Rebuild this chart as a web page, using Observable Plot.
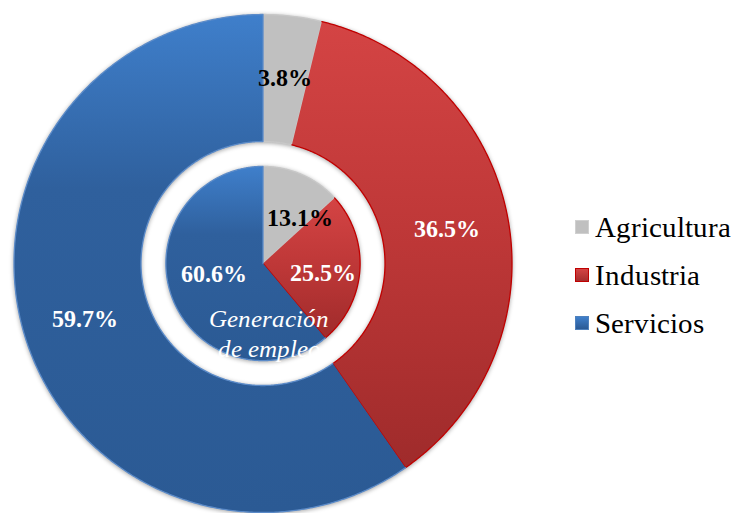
<!DOCTYPE html>
<html>
<head>
<meta charset="utf-8">
<script src="https://cdn.jsdelivr.net/npm/d3@7"></script>
<script src="https://cdn.jsdelivr.net/npm/@observablehq/plot@0.6"></script>
<style>
  @font-face { font-family: "ChartSerif"; src: local("Liberation Serif"), local("LiberationSerif"), local("Times New Roman"); font-weight: normal; font-style: normal; }
  @font-face { font-family: "ChartSerif"; src: local("Liberation Serif Bold"), local("LiberationSerif-Bold"), local("Times New Roman Bold"); font-weight: bold; font-style: normal; }
  @font-face { font-family: "ChartSerif"; src: local("Liberation Serif Italic"), local("LiberationSerif-Italic"), local("Times New Roman Italic"); font-weight: normal; font-style: italic; }
  body { margin: 0; background: #fff; }
  #wrap { position: relative; width: 735px; height: 513px; font-family: ChartSerif, 'Liberation Serif', serif; }
  #legend { position: absolute; left: 575px; top: 203px; }
  .row { display: flex; align-items: center; height: 48px; font-size: 29px; color: #000; }
  .row span, svg text, svg tspan { font-family: ChartSerif, 'Liberation Serif', serif !important; }
  .sw { width: 14px; height: 14px; margin-right: 6px; box-sizing: border-box; }
</style>
</head>
<body>
<div id="wrap"></div>
<script>
// Data
const categories = ["Agricultura", "Industria", "Servicios"];
const outerValues = [3.8, 36.5, 59.7];   // outer ring
const innerValues = [13.1, 25.5, 60.6];  // inner pie: Generación de empleo
const innerTitle = ["Generación", "de empleo"];

const fills = ["#c0c0c0", "url(#gRed)", "url(#gBlue)"];
const strokes = ["#c8c8c8", "#c00000", "#5b8bc9"];
const labelColors = ["#000", "#fff", "#fff"];

const R = 1, Rin = 0.49, Rpie = 0.39;

function slices(values, ro, ri, ring) {
  const total = d3.sum(values);
  let acc = 0;
  const polys = [], labels = [];
  values.forEach((v, i) => {
    const a0 = acc / total * 2 * Math.PI;
    acc += v;
    const a1 = acc / total * 2 * Math.PI;
    const key = ring + i;
    const n = Math.max(2, Math.ceil((a1 - a0) / (Math.PI / 360)));
    for (let k = 0; k <= n; k++) {
      const a = a0 + (a1 - a0) * k / n;
      polys.push({key, i, x: ro * Math.sin(a), y: ro * Math.cos(a)});
    }
    if (ri > 0) {
      for (let k = n; k >= 0; k--) {
        const a = a0 + (a1 - a0) * k / n;
        polys.push({key, i, x: ri * Math.sin(a), y: ri * Math.cos(a)});
      }
    } else {
      polys.push({key, i, x: 0, y: 0});
    }
    const am = (a0 + a1) / 2;
    labels.push({i, value: v, am});
  });
  return {polys, labels};
}

const outer = slices(outerValues, R, Rin, "o");
const inner = slices(innerValues, Rpie, 0, "i");

const cx = 262.5, cy = 263, pr = 249;
const W = 735, H = 513;

const outerLabels = outer.labels.map(d => ({...d, x: 0.75 * Math.sin(d.am), y: 0.75 * Math.cos(d.am)}));
const innerLabels = inner.labels.map(d => ({...d, x: 0.24 * Math.sin(d.am), y: 0.24 * Math.cos(d.am)}));
const innerNudge = [[13, 10], [0, 6], [7, -10]];

const fmt = v => v.toFixed(1) + "%";
const FF = "ChartSerif, 'Liberation Serif', serif";
const font = {fontFamily: FF, fontSize: 24, fontWeight: "bold"};

const marks = [
  Plot.line(outer.polys, {x: "x", y: "y", z: "key", fill: d => fills[d.i], stroke: d => strokes[d.i], strokeWidth: 1.3, curve: "linear"}),
  Plot.line(inner.polys, {x: "x", y: "y", z: "key", fill: d => fills[d.i], stroke: d => strokes[d.i], strokeWidth: 1.3, curve: "linear"}),
  Plot.text(outerLabels, {x: "x", y: "y", text: d => fmt(d.value), fill: d => labelColors[d.i], ...font})
];
innerLabels.forEach((d, k) => {
  marks.push(Plot.text([d], {x: "x", y: "y", text: d => fmt(d.value), fill: labelColors[d.i], dx: innerNudge[k][0], dy: innerNudge[k][1], ...font}));
});
marks.push(Plot.text([innerTitle.join("\n")], {x: () => 0.0, y: () => -0.275, text: d => d, fill: "#fff", fontFamily: FF, fontSize: 25, fontStyle: "italic", lineHeight: 1.2, dx: 6}));

const svg = Plot.plot({
  width: W, height: H,
  margin: 0, marginTop: 0, marginRight: 0, marginBottom: 0, marginLeft: 0,
  x: {domain: [-cx / pr, (W - cx) / pr], axis: null},
  y: {domain: [(cy - H) / pr, cy / pr], axis: null},
  color: {type: "identity"},
  style: {background: "transparent", overflow: "visible", fontFamily: FF},
  marks
});

const defs = d3.select(svg).insert("defs", ":first-child");
function grad(id, stops) {
  const g = defs.append("linearGradient").attr("id", id).attr("x1", 0).attr("y1", 0).attr("x2", 0).attr("y2", 1);
  stops.forEach(([o, c]) => g.append("stop").attr("offset", o).attr("stop-color", c));
}
grad("gRed", [[0, "#d44444"], [0.5, "#bd3737"], [1, "#9f2b2b"]]);
grad("gBlue", [[0, "#3f7fcb"], [0.35, "#2f609d"], [1, "#2b5a94"]]);
d3.select(svg).selectAll("g[aria-label='line']").style("filter", "drop-shadow(0px 1px 2px rgba(0,0,0,0.35))");

const wrap = document.getElementById("wrap");
wrap.appendChild(svg);
svg.style.position = "absolute";
svg.style.left = "0";
svg.style.top = "0";

const legend = document.createElement("div");
legend.id = "legend";
const swStyles = [
  "background:#c0c0c0;border:1px solid #d0d0d0;",
  "background:linear-gradient(#d44444,#a52d2d);border:1.5px solid #c00000;",
  "background:linear-gradient(#3f7fcb,#2b5a94);border:1px solid #4f81bd;"
];
categories.forEach((c, i) => {
  const row = document.createElement("div");
  row.className = "row";
  const sw = document.createElement("div");
  sw.className = "sw";
  sw.setAttribute("style", swStyles[i]);
  const sp = document.createElement("span");
  sp.textContent = c;
  row.appendChild(sw);
  row.appendChild(sp);
  legend.appendChild(row);
});
wrap.appendChild(legend);
</script>
</body>
</html>
